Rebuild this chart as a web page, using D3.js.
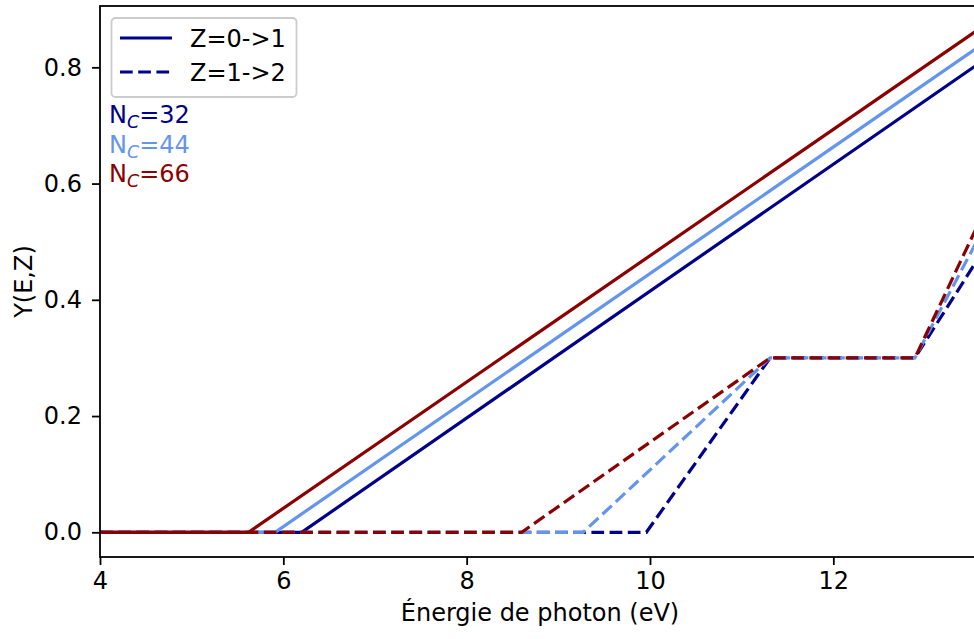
<!DOCTYPE html>
<html><head><meta charset="utf-8">
<script src="https://cdn.jsdelivr.net/npm/d3@7"></script>
<style>body{margin:0;background:#fff}svg{display:block;font-family:"DejaVu Sans",sans-serif}</style>
</head><body><svg id="c" width="974" height="639"></svg>
<script>
// Energies (eV) of the line vertices and the yields Y(E,Z)
const nC = [32, 44, 66];
const colors = ["#00008B", "#6495ED", "#8B0000"];
const solidE = [[4, 6.20, 13.6], [4, 5.91, 13.6], [4, 5.62, 13.6]];
const solidY = [[0, 0, 0.808], [0, 0, 0.837], [0, 0, 0.867]];
const dashE = [[4, 9.96, 11.31, 12.89, 13.6], [4, 9.27, 11.31, 12.89, 13.6], [4, 8.60, 11.31, 12.89, 13.6]];
const dashY = [[0, 0, 0.30, 0.30, 0.476], [0, 0, 0.30, 0.30, 0.511], [0, 0, 0.30, 0.30, 0.537]];
const xTicks = [4, 6, 8, 10, 12];
const yTicks = [0.0, 0.2, 0.4, 0.6, 0.8];
const legendLabels = ["Z=0->1", "Z=1->2"];

const svg = d3.select("#c");
const L = 100, R = 980, T = 6, B = 557;
const x = d3.scaleLinear().domain([4, 13.6]).range([L, R]);
const y = d3.scaleLinear().domain([-0.0425, 0.9055]).range([B, T]);
const FS = 24;

svg.append("defs").append("clipPath").attr("id", "clip")
  .append("rect").attr("x", L).attr("y", T).attr("width", R - L).attr("height", B - T);

const line = d3.line().x(d => x(d[0])).y(d => y(d[1]));
const g = svg.append("g").attr("clip-path", "url(#clip)");
nC.forEach((n, i) => {
  g.append("path").datum(solidE[i].map((e, j) => [e, solidY[i][j]]))
    .attr("d", line).attr("fill", "none").attr("stroke", colors[i]).attr("stroke-width", 3.2);
  g.append("path").datum(dashE[i].map((e, j) => [e, dashY[i][j]]))
    .attr("d", line).attr("fill", "none").attr("stroke", colors[i]).attr("stroke-width", 3.2)
    .attr("stroke-dasharray", "12.7,5.5");
});

// axes
const xa = svg.append("g").attr("transform", `translate(0,${B})`)
  .call(d3.axisBottom(x).tickValues(xTicks).tickFormat(d3.format("d")).tickSize(8).tickPadding(7));
const ya = svg.append("g").attr("transform", `translate(${L},0)`)
  .call(d3.axisLeft(y).tickValues(yTicks).tickFormat(d3.format(".1f")).tickSize(8).tickPadding(10));
[xa, ya].forEach(a => {
  a.select(".domain").remove();
  a.selectAll("line").attr("stroke", "#000").attr("stroke-width", 1.8);
  a.selectAll("text").attr("font-size", FS).attr("fill", "#000").attr("font-family", "DejaVu Sans");
});
// spines
svg.append("rect").attr("x", L).attr("y", T).attr("width", R - L).attr("height", B - T)
  .attr("fill", "none").attr("stroke", "#000").attr("stroke-width", 1.8);

svg.append("text").attr("x", (L + R) / 2).attr("y", 621).attr("text-anchor", "middle")
  .attr("font-size", FS).text("Énergie de photon (eV)");
svg.append("text").attr("transform", `translate(32,${(T + B) / 2}) rotate(-90)`)
  .attr("text-anchor", "middle").attr("font-size", FS).text("Y(E,Z)");

// legend
const lg = svg.append("g");
lg.append("rect").attr("x", 111.5).attr("y", 18).attr("width", 185).attr("height", 79).attr("rx", 4)
  .attr("fill", "#fff").attr("fill-opacity", 0.8).attr("stroke", "#ccc").attr("stroke-width", 1.8);
legendLabels.forEach((t, i) => {
  const yy = 38 + i * 34;
  lg.append("line").attr("x1", 120).attr("x2", 172).attr("y1", yy).attr("y2", yy)
    .attr("stroke", colors[0]).attr("stroke-width", 3.2)
    .attr("stroke-dasharray", i === 1 ? "12.7,5.5" : null);
  lg.append("text").attr("x", 190).attr("y", yy + 8.5).attr("font-size", FS).text(t);
});

// N_C annotations
nC.forEach((n, i) => {
  const t = svg.append("text").attr("x", 109).attr("y", 123 + i * 29.5).attr("font-size", FS).attr("fill", colors[i]);
  t.append("tspan").text("N");
  t.append("tspan").attr("font-size", 17.5).attr("font-style", "italic").attr("dy", 5).text("C");
  t.append("tspan").attr("dy", -5).text("=" + n);
});
</script></body></html>
